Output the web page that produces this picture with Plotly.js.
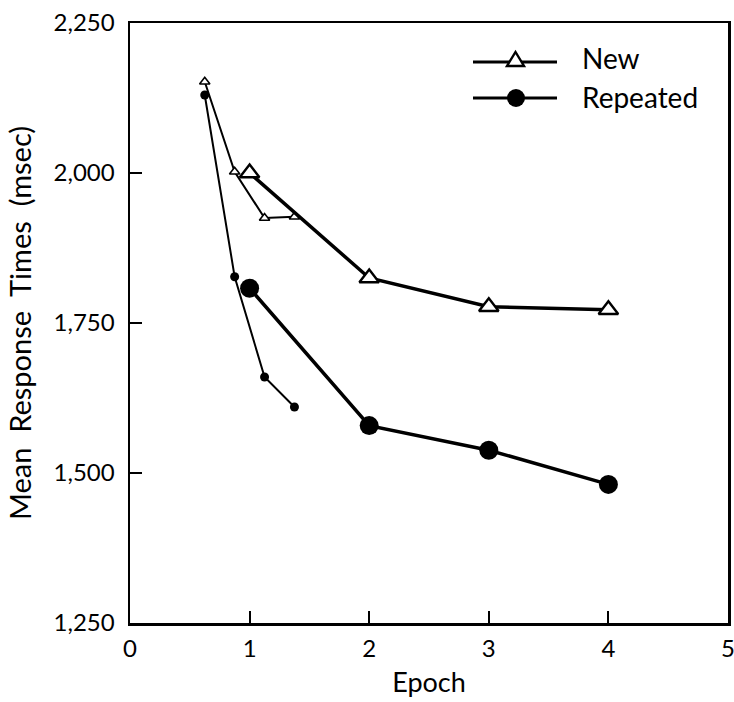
<!DOCTYPE html>
<html>
<head>
<meta charset="utf-8">
<script src="https://cdn.plot.ly/plotly-3.0.1.min.js"></script>
<style>html,body{margin:0;padding:0;background:#fff;}#chart{width:734px;height:702px;}</style>
</head>
<body>
<div id="chart"></div>
<script>
// ---- data ----
const epochs = [1, 2, 3, 4];
const newMeans = [2000, 1825, 1777, 1772];
const repeatedMeans = [1808, 1579, 1538, 1481];
const blocks = [0.625, 0.875, 1.125, 1.375];
const newBlocks = [2152, 2002, 1925, 1927];
const repeatedBlocks = [2130, 1827, 1660, 1610];
const xTicks = [0, 1, 2, 3, 4, 5];
const yTicks = [1250, 1500, 1750, 2000, 2250];
const legendLabels = ['New', 'Repeated'];

// ---- layout constants ----
const W = 734, H = 702;
const M = {l: 130, r: 6, t: 23, b: 79};
const PW = W - M.l - M.r, PH = H - M.t - M.b;
const px = x => (x - M.l) / PW;
const py = y => (H - M.b - y) / PH;
const FONT = 'Lato, "Open Sans", sans-serif';

const traces = [
  {x: blocks, y: newBlocks, mode: 'lines+markers', showlegend: false,
   line: {color: '#000', width: 2},
   marker: {symbol: 'triangle-up', size: 9, color: '#fff', line: {color: '#000', width: 1.6}}},
  {x: blocks, y: repeatedBlocks, mode: 'lines+markers', showlegend: false,
   line: {color: '#000', width: 2},
   marker: {symbol: 'circle', size: 9, color: '#000'}},
  {x: epochs, y: newMeans, mode: 'lines+markers', name: legendLabels[0], showlegend: false,
   line: {color: '#000', width: 3.5},
   marker: {symbol: 'triangle-up', size: 17, color: '#fff', line: {color: '#000', width: 2.4}}},
  {x: epochs, y: repeatedMeans, mode: 'lines+markers', name: legendLabels[1], showlegend: false,
   line: {color: '#000', width: 3.5},
   marker: {symbol: 'circle', size: 19, color: '#000'}}
];

// legend drawn in paper space
const legY = [62, 98];
const shapes = [];
legY.forEach(y => {
  shapes.push({type: 'line', xref: 'paper', yref: 'paper', x0: px(473), x1: px(557), y0: py(y), y1: py(y),
               line: {color: '#000', width: 3}});
});
shapes.push({type: 'path', xref: 'paper', yref: 'paper',
  path: `M${px(507)},${py(66)} L${px(524)},${py(66)} L${px(515.5)},${py(52)} Z`,
  fillcolor: '#fff', line: {color: '#000', width: 2.4}});
shapes.push({type: 'circle', xref: 'paper', yref: 'paper',
  x0: px(507), x1: px(525), y0: py(legY[1] + 9), y1: py(legY[1] - 9),
  fillcolor: '#000', line: {color: '#000', width: 0}});

const legTextY = [58, 97];
const annotations = legendLabels.map((t, i) => ({
  text: t, xref: 'paper', yref: 'paper', x: px(580), y: py(legTextY[i]),
  xanchor: 'left', yanchor: 'middle', showarrow: false,
  font: {family: FONT, size: 28, color: '#000'}
}));

const layout = {
  width: W, height: H,
  margin: M,
  paper_bgcolor: '#fff', plot_bgcolor: '#fff',
  font: {family: FONT, color: '#000'},
  showlegend: false,
  xaxis: {
    range: [0, 5], tickvals: xTicks, ticktext: xTicks.map(String),
    ticks: 'inside', ticklen: 12, tickwidth: 2, tickcolor: '#000',
    showline: true, linewidth: 2.5, linecolor: '#000', mirror: true,
    showgrid: false, zeroline: false,
    tickfont: {family: FONT, size: 24, color: '#000'},
    ticklabelstandoff: 3, ticklabeloverflow: 'allow',
    title: {text: 'Epoch', font: {family: FONT, size: 27, color: '#000'}, standoff: 12}
  },
  yaxis: {
    range: [1250, 2250], tickvals: yTicks, tickformat: ',d',
    ticks: 'inside', ticklen: 12, tickwidth: 2, tickcolor: '#000',
    showline: true, linewidth: 2.5, linecolor: '#000', mirror: true,
    showgrid: false, zeroline: false,
    tickfont: {family: FONT, size: 24, color: '#000'},
    ticklabelstandoff: 8, ticklabeloverflow: 'allow',
    title: {text: 'Mean\u00a0 Response\u00a0 Times\u00a0 (msec)', font: {family: FONT, size: 29, color: '#000'}, standoff: 14}
  },
  shapes: shapes,
  annotations: annotations
};

Plotly.newPlot('chart', traces, layout, {displayModeBar: false, staticPlot: true});
</script>
</body>
</html>
